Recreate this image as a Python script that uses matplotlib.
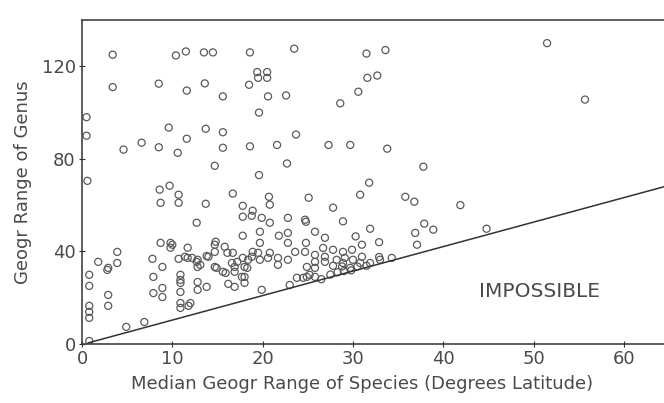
"""
Rango geográfico de géneros frente a rango mediano de sus especies.
"""
import numpy as np
import matplotlib.pyplot as plt

# Datos (grados de latitud)
species_hi = [3.4, 3.4, 0.5, 0.5, 0.6, 4.6, 6.6, 8.5, 8.5, 9.6, 10.6, 10.4, 11.5, 11.6,
              11.6, 13.5, 14.5, 13.6, 13.7, 15.6, 15.6, 15.6, 14.7, 18.6, 18.5, 19.4,
              20.5, 19.5, 20.5, 20.6, 22.6, 19.6, 18.6, 21.6, 23.7, 19.6, 22.7, 23.5,
              27.3, 29.7, 31.5, 33.6, 31.6, 32.7, 30.6, 28.6, 33.8, 37.8, 31.8, 30.8,
              35.8, 36.8, 41.9, 51.5, 55.7, 8.6, 9.7, 10.7, 10.7, 8.7, 13.7, 16.7,
              20.7, 25.1, 20.8, 17.8, 18.9]
genus_hi = [125, 111, 98, 90, 70.5, 84, 87, 112.5, 85, 93.5, 82.6, 124.7, 126.4, 109.5,
            88.7, 126, 126, 112.6, 93, 107, 91.5, 84.8, 77, 126, 112, 117.5,
            117.5, 115, 115, 107, 107.4, 100, 85.4, 86, 90.5, 73, 78, 127.6,
            86, 86, 125.5, 127, 115, 116, 109, 104, 84.4, 76.6, 69.7, 64.5,
            63.6, 61.5, 60, 130, 105.6, 66.7, 68.4, 64.5, 61, 61, 60.6, 65,
            63.6, 63.2, 60.2, 59.7, 57.6]

species_mid = [27.8, 17.8, 18.8, 19.9, 20.8, 12.7, 22.8, 24.8, 28.9, 31.9, 36.9, 37.9,
               38.9, 44.8, 17.8, 19.7, 21.8, 22.8, 25.8, 30.3, 26.9, 19.7, 22.8, 24.8,
               37.1, 32.9, 31.0, 14.8, 15.8, 8.7, 9.8, 9.8, 11.7, 27.8, 28.9, 29.9,
               26.7, 10.0, 14.7, 24.7]
genus_mid = [58.9, 55, 55.4, 54.5, 52.4, 52.4, 54.5, 52.8, 53, 49.8, 48, 52,
             49.4, 49.8, 46.8, 48.5, 46.8, 48, 48.5, 46.5, 45.9, 43.7, 43.7, 43.7,
             42.9, 44, 42.9, 44.2, 42, 43.7, 43.7, 41.6, 41.6, 40.7, 39.8, 40.7,
             41.5, 42.9, 42.9, 53.7]

species_lo = [3.9, 3.9, 2.9, 1.8, 2.8, 2.9, 2.9, 0.8, 0.8, 0.8, 0.8, 0.8, 4.9, 6.9, 0.8,
              7.8, 8.9, 7.9, 8.9, 7.9, 8.9, 10.9, 10.9, 10.9, 10.9, 11.8, 10.9, 12.8,
              12.8, 13.8, 10.7, 11.7, 12.8, 12.8, 13.8, 14.7, 14.9, 15.9, 16.7, 17.2,
              16.9, 17.8, 18.0, 18.0, 18.0, 16.2, 16.9, 18.9, 18.4, 19.7, 20.6, 20.8,
              21.7, 21.7, 22.8, 19.9, 23.6, 24.7, 25.8, 25.8, 24.9, 25.8, 24.9, 25.8,
              23.8, 23.0, 26.9, 26.9, 29.1, 30.0, 31.0, 28.2, 28.9, 29.7, 30.8, 31.9,
              33.0, 34.3, 28.3, 27.5, 29.0, 26.5, 29.8, 30.5, 31.5, 28.8, 27.8, 25.2,
              24.5, 11.4, 12.2, 12.7, 13.1, 14.0, 16.1, 16.6, 16.9, 17.7, 18.3, 18.8,
              19.5, 10.9, 12.0, 14.7, 15.6, 32.9]
genus_lo = [39.8, 35, 32.9, 35.5, 32, 21.2, 16.5, 29.9, 25.1, 16.5, 13.9, 11.3, 7.4, 9.5, 1.3,
            36.8, 33.3, 29, 24.2, 22, 20.3, 29.9, 27.7, 22.5, 17.7, 16.5, 15.6, 26.8,
            23.4, 24.7, 36.8, 37.2, 36.4, 33.3, 38, 39.8, 32.9, 30.7, 39.4, 35.5,
            33.3, 37.2, 33.3, 29, 26.4, 26, 24.7, 39.8, 36.4, 36.4, 37.2, 39.4,
            37.2, 34.2, 36.4, 23.4, 39.8, 39.8, 38.5, 35.5, 33.3, 32.9, 29, 29,
            28.6, 25.5, 37.7, 35.5, 37.2, 36.4, 37.7, 36.4, 35, 32.9, 35, 35,
            36.4, 37.2, 31, 30, 31.5, 28, 31.8, 33.5, 33.8, 33.5, 33.8, 29.9,
            28.6, 37.7, 37.2, 35.5, 34.2, 37.7, 39.4, 35, 31.2, 29, 32.9, 37.7,
            39.4, 26.4, 17.7, 33.3, 31.2, 37.6]

# Línea límite (rango del género = rango de la especie)
limit_x = [0.7, 64.5]
limit_y = [0.5, 68.0]

x = np.array(species_hi + species_mid + species_lo)
y = np.array(genus_hi + genus_mid + genus_lo)

plt.rcParams['font.family'] = ['DejaVu Sans']
gray = '#4a4a4a'

fig = plt.figure(figsize=(6.64, 4.03), dpi=100)
ax = fig.add_axes([0.1235, 0.1464, 0.8765, 0.804])

ax.scatter(x, y, s=26, facecolors='none', edgecolors='#5a5a5a', linewidths=0.9)
ax.plot(limit_x, limit_y, color='#333333', lw=1.1)
ax.text(50.7, 22.5, "IMPOSSIBLE", fontsize=14.5, color=gray, ha='center', va='center')

ax.set_xlim(0, 64.45)
ax.set_ylim(0, 140)
ax.set_xticks([0, 10, 20, 30, 40, 50, 60])
ax.set_yticks([0, 40, 80, 120])
ax.tick_params(direction='inout', length=5, color='#333333', labelsize=13,
               labelcolor=gray, pad=2)
ax.spines['right'].set_visible(False)
for s in ['left', 'bottom', 'top']:
    ax.spines[s].set_color('#333333')
    ax.spines[s].set_linewidth(1.1)

ax.set_xlabel("Median Geogr Range of Species (Degrees Latitude)", fontsize=13,
              color=gray)
ax.xaxis.set_label_coords(0.482, -0.097)
ax.set_ylabel("Geogr Range of Genus", fontsize=13, color=gray, labelpad=7)

fig.savefig("out.png", dpi=100)
